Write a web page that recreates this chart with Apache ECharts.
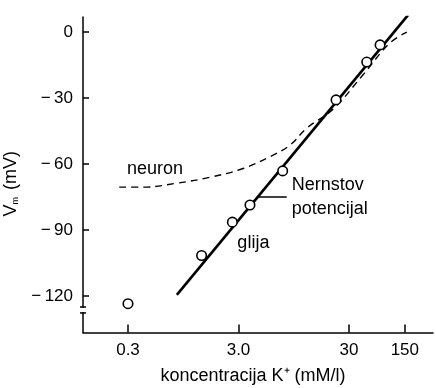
<!DOCTYPE html>
<html>
<head>
<meta charset="utf-8">
<script src="https://cdn.jsdelivr.net/npm/echarts@6/dist/echarts.min.js"></script>
<style>
html,body{margin:0;padding:0;background:#fff;}
#c{width:436px;height:388px;}
</style>
</head>
<body>
<div id="c"></div>
<script>
// ---- data ----
const xTickValues = [0.3, 3, 30, 96];
const xTickLabels = ['0.3', '3.0', '30', '150'];
const yTickValues = [0, -30, -60, -90, -120];

const gliaConc = [0.3, 1.39, 2.64, 3.81, 7.53, 22.9, 43.4, 57.3];
const gliaVm   = [-123.5, -101.6, -86.4, -78.6, -63.1, -30.8, -13.6, -5.8];

const nernstConc = [0.83, 103];
const nernstVm   = [-119.5, 7.9];

const neuronConc = [0.25, 0.41, 0.83, 1.66, 3.3, 5.8, 8.8, 12.4, 21.5, 40, 70, 100];
const neuronVm   = [-70.5, -70.5, -68.7, -66, -62, -56.6, -51.3, -43.7, -35, -19.5, -5, 0];

// annotation anchors (data space)
const annotNames = ['neuron', 'glija'];
const annotConc  = [0.526, 4.09];
const annotVm    = [-62.2, -95.9];
const leaderConc = [4.53, 8.19];
const leaderVm   = -74.8;
const breakVm    = [-125.0, -127.7];

const xMin = 0.1175, xMax = 172.6, yMin = -136.6, yMax = 6.9;
const FONT = '"Liberation Sans", Arial, sans-serif';

const chart = echarts.init(document.getElementById('c'), null, {renderer: 'canvas'});

const zip = (a, b) => a.map((v, i) => [v, b[i]]);

chart.setOption({
  animation: false,
  backgroundColor: '#fff',
  textStyle: {fontFamily: FONT, color: '#000'},
  grid: {left: 83, right: 3, top: 17, bottom: 55.5, containLabel: false, outerBoundsMode: 'none'},
  xAxis: {
    type: 'log', logBase: 10, min: xMin, max: xMax,
    name: 'koncentracija K⁺ (mM/l)', nameLocation: 'middle', nameGap: 35,
    nameTextStyle: {fontSize: 18, color: '#000', fontFamily: FONT, padding: [0, 10, 0, 0]},
    axisLine: {show: true, onZero: false, lineStyle: {color: '#000', width: 1.5}},
    axisTick: {show: true, inside: true, length: 8, customValues: xTickValues, lineStyle: {color: '#000', width: 1.5}},
    axisLabel: {
      show: true, customValues: xTickValues, margin: 9, fontSize: 17, color: '#000', fontFamily: FONT,
      formatter: function (v) {
        let best = 0;
        xTickValues.forEach((t, i) => { if (Math.abs(Math.log(t) - Math.log(v)) < Math.abs(Math.log(xTickValues[best]) - Math.log(v))) best = i; });
        return xTickLabels[best];
      }
    },
    splitLine: {show: false}, minorTick: {show: false}
  },
  yAxis: {
    type: 'value', min: yMin, max: yMax,
    name: '{v|V}{s|m} (mV)', nameLocation: 'middle', nameGap: 58, nameRotate: 90,
    nameTextStyle: {fontSize: 18, color: '#000', fontFamily: FONT, padding: [0, 18, 0, 0],
      rich: {v: {fontSize: 18, fontFamily: FONT, color: '#000'}, s: {fontSize: 9, fontFamily: FONT, color: '#000', padding: [8, 2, 0, 0]}}},
    axisLine: {show: true, onZero: false, lineStyle: {color: '#000', width: 1.5}},
    axisTick: {show: true, inside: true, length: 6, customValues: yTickValues, lineStyle: {color: '#000', width: 1.5}},
    axisLabel: {
      show: true, customValues: yTickValues, margin: 10, fontSize: 17, color: '#000', fontFamily: FONT,
      formatter: v => (v < 0 ? '\u2212\u2009' + (-v) : String(v))
    },
    splitLine: {show: false}
  },
  series: [
    {
      name: 'neuron', type: 'line', data: zip(neuronConc, neuronVm), smooth: 0.4,
      showSymbol: false, symbol: 'none', z: 2,
      lineStyle: {color: '#000', width: 1.4, type: [7, 5]}
    },
    {
      name: 'Nernst', type: 'line', data: zip(nernstConc, nernstVm),
      showSymbol: false, symbol: 'none', z: 3,
      lineStyle: {color: '#000', width: 2.6},
      markLine: {
        silent: true, symbol: 'none', animation: false,
        lineStyle: {color: '#000', width: 1.5, type: 'solid'},
        label: {show: true, position: 'end', distance: 5, formatter: 'Nernstov\npotencijal',
          fontSize: 18, lineHeight: 24, color: '#000', fontFamily: FONT, padding: [16, 0, 0, 0]},
        data: [[{coord: [leaderConc[0], leaderVm]}, {coord: [leaderConc[1], leaderVm]}]]
      }
    },
    {
      name: 'glija', type: 'scatter', data: zip(gliaConc, gliaVm), z: 4,
      symbol: 'circle', symbolSize: 9.5,
      itemStyle: {color: '#fff', borderColor: '#000', borderWidth: 1.6, opacity: 1}
    },
    {
      name: 'annot', type: 'scatter', z: 5, symbolSize: 0, silent: true,
      itemStyle: {opacity: 1, color: '#000'},
      data: annotNames.map((n, i) => ({name: n, value: [annotConc[i], annotVm[i]]})),
      label: {show: true, position: 'inside', formatter: p => p.name, fontSize: 18, color: '#000', opacity: 1, fontFamily: FONT}
    }
  ]
});

// axis break drawn on the y axis using the chart's own scale
const pTop = chart.convertToPixel({gridIndex: 0}, [xMin, breakVm[0]]);
const pBot = chart.convertToPixel({gridIndex: 0}, [xMin, breakVm[1]]);
chart.setOption({
  graphic: [
    {type: 'rect', shape: {x: pTop[0] - 3, y: pTop[1] + 0.8, width: 6, height: pBot[1] - pTop[1] - 1.6}, style: {fill: '#fff'}, z: 100},
    {type: 'line', shape: {x1: pTop[0] - 3, y1: pTop[1], x2: pTop[0] + 3, y2: pTop[1]}, style: {stroke: '#000', lineWidth: 1.5}, z: 101},
    {type: 'line', shape: {x1: pBot[0] - 3, y1: pBot[1], x2: pBot[0] + 3, y2: pBot[1]}, style: {stroke: '#000', lineWidth: 1.5}, z: 101}
  ]
});
</script>
</body>
</html>
